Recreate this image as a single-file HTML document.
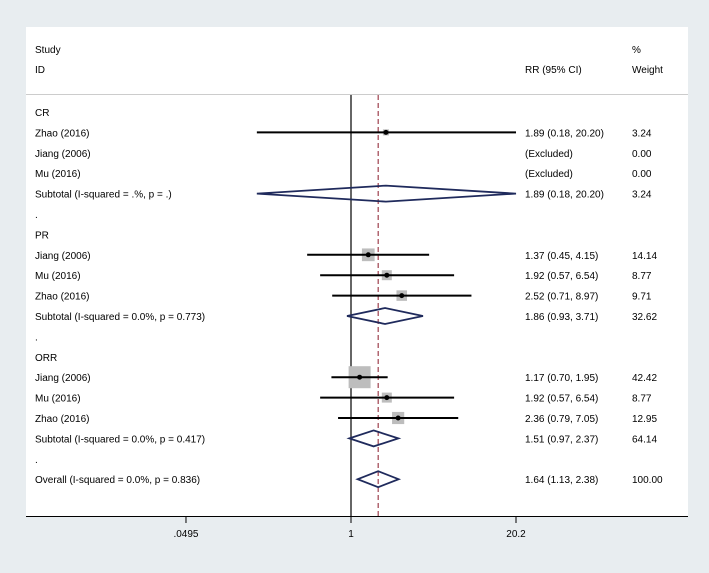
<!DOCTYPE html>
<html><head><meta charset="utf-8"><style>
body{margin:0;background:#e8edf0;}
svg{display:block;font-family:"Liberation Sans",sans-serif;font-size:10px;}
</style></head><body>
<svg id="c" width="709" height="573">
<rect x="26" y="27" width="662" height="490" fill="#fff"/>
<line x1="26" y1="94.5" x2="688" y2="94.5" stroke="#ccc"/>
<text x="35" y="53">Study</text>
<text x="35" y="73">ID</text>
<text x="525" y="73">RR (95% CI)</text>
<text x="632" y="53">%</text>
<text x="632" y="73">Weight</text>
<g id="g"></g>
</svg>
<script>
const labels=["CR","Zhao (2016)","Jiang (2006)","Mu (2016)","Subtotal  (I-squared = .%, p = .)",".","PR","Jiang (2006)","Mu (2016)","Zhao (2016)","Subtotal  (I-squared = 0.0%, p = 0.773)",".","ORR","Jiang (2006)","Mu (2016)","Zhao (2016)","Subtotal  (I-squared = 0.0%, p = 0.417)",".","Overall  (I-squared = 0.0%, p = 0.836)"];
const kinds=["h","s","x","x","d","h","h","s","s","s","d","h","h","s","s","s","d","h","d"];
const est=[0,1.89,0,0,1.89,0,0,1.37,1.92,2.52,1.86,0,0,1.17,1.92,2.36,1.51,0,1.64];
const lo=[0,0.18,0,0,0.18,0,0,0.45,0.57,0.71,0.93,0,0,0.70,0.57,0.79,0.97,0,1.13];
const hi=[0,20.20,0,0,20.20,0,0,4.15,6.54,8.97,3.71,0,0,1.95,6.54,7.05,2.37,0,2.38];
const weights=[0,3.24,0,0,3.24,0,0,14.14,8.77,9.71,32.62,0,0,42.42,8.77,12.95,64.14,0,100.00];
const overall=1.64;
const ticks=[0.0495,1,20.2];
const tickLabels=[".0495","1","20.2"];
const NS="http://www.w3.org/2000/svg";
const g=document.getElementById('g');
const X=v=>351+Math.log(v)*54.9;
const Y=i=>116+i*20.4;
function mk(t,a){const e=document.createElementNS(NS,t);for(const k in a)e.setAttribute(k,a[k]);g.appendChild(e);return e;}
let e;
e=mk('line',{x1:351,y1:95,x2:351,y2:516,stroke:'#000','stroke-width':1.2});


e=mk('line',{x1:X(overall),y1:95,x2:X(overall),y2:516,stroke:'#8b1a2a','stroke-dasharray':'5,3'});


labels.forEach((l,i)=>{
 const y=Y(i);
 e=mk('text',{x:35,y:y});e.textContent=l;
 
 
 const k=kinds[i];const cy=y-4;
 if(k==='s'){
  const s=3.38*Math.sqrt(weights[i]);
  e=mk('rect',{x:X(est[i])-s/2,y:cy-s/2,width:s,height:s,fill:'#bdbdbd'});
  
  
  e=mk('line',{x1:X(lo[i]),y1:cy,x2:X(hi[i]),y2:cy,stroke:'#000','stroke-width':2});
  
  
  e=mk('circle',{cx:X(est[i]),cy:cy,r:2.5,fill:'#000'});
  
  
 }
 if(k==='d'){
  const a=X(lo[i]),b=X(hi[i]),m=X(est[i]);
  e=mk('polygon',{points:`${a},${cy} ${m},${cy-8} ${b},${cy} ${m},${cy+8}`,fill:'none',stroke:'#1f2a5c','stroke-width':1.8});
  
  
 }
 if(k==='s'||k==='d'){
  e=mk('text',{x:525,y:y});e.textContent=`${est[i].toFixed(2)} (${lo[i].toFixed(2)}, ${hi[i].toFixed(2)})`;
  
  
 }
 if(k==='x'){
  e=mk('text',{x:525,y:y});e.textContent='(Excluded)';
  
  
 }
 if(k!=='h'){
  e=mk('text',{x:632,y:y});e.textContent=weights[i].toFixed(2);
  
  
 }
});
e=mk('line',{x1:26,y1:516.5,x2:688,y2:516.5,stroke:'#000','stroke-width':1});


ticks.forEach((t,i)=>{
 e=mk('line',{x1:X(t),y1:516,x2:X(t),y2:523,stroke:'#000'});
 
 
 e=mk('text',{x:X(t),y:537,'text-anchor':'middle'});e.textContent=tickLabels[i];
 
 
});
</script>
</body></html>
